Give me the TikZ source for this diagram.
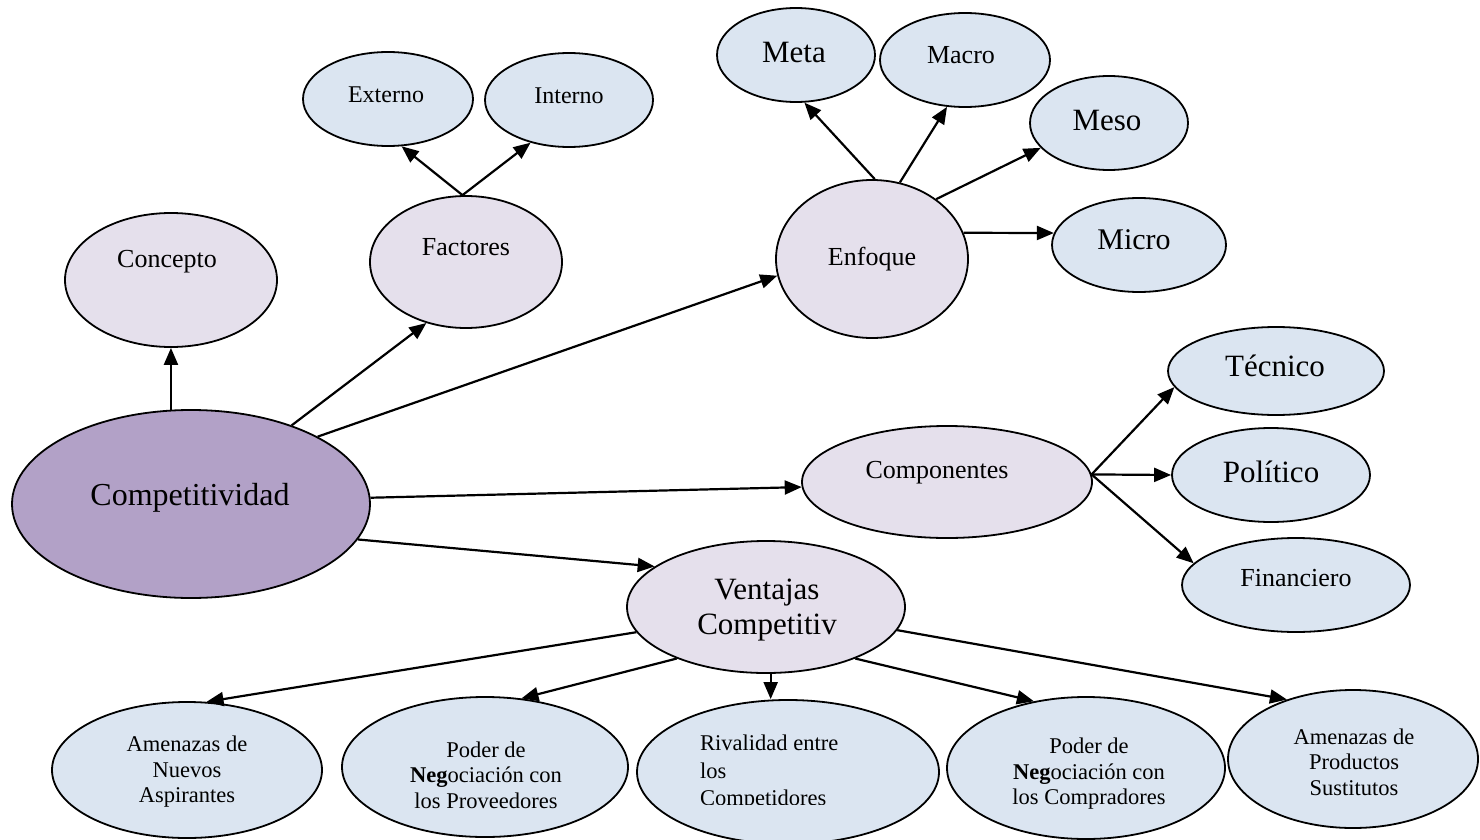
\documentclass[tikz,border=0pt]{standalone}
\usepackage{fontspec}
\setmainfont{Liberation Serif}
\usetikzlibrary{shapes.geometric,arrows.meta}

\definecolor{corefill}{HTML}{B2A1C7}
\definecolor{midfill}{HTML}{E5E0EC}
\definecolor{leaffill}{HTML}{DBE5F1}

\newcommand{\fsz}[2]{\fontsize{#1}{#2}\selectfont}

\tikzset{
  ell/.style={ellipse, draw=black, line width=1.8pt, inner sep=0pt},
  core/.style={ell, fill=corefill},
  mid/.style={ell, fill=midfill},
  leaf/.style={ell, fill=leaffill},
  sz/.style 2 args={minimum width=#1pt, minimum height=#2pt},
  lbl/.style={inner sep=0pt, align=center, text=black},
  arr/.style={line width=2.2pt, -{Triangle[length=17pt,width=14pt]}},
}

\begin{document}
\begin{tikzpicture}[x=1pt, y=-1pt]
  \useasboundingbox (0,0) rectangle (1480,840);
  \fill[white] (0,0) rectangle (1480,840);

  % central node
  \node[core, sz={358}{188}] (comp) at (191,504) {};
  \node[lbl, font=\fsz{32}{36}] (compT) at (190,498) {Competitividad};

  % first level
  \node[mid, sz={212}{134}] (concepto) at (171,280) {};
  \node[lbl, font=\fsz{26}{30}] (conceptoT) at (167,262) {Concepto};

  \node[mid, sz={192}{132}] (factores) at (466,262) {};
  \node[lbl, font=\fsz{26}{30}] (factoresT) at (466,247) {Factores};

  \node[mid, sz={192}{158}] (enfoque) at (872,259) {};
  \node[lbl, font=\fsz{26}{30}] (enfoqueT) at (872,259) {Enfoque};

  \node[mid, sz={290}{112}] (compo) at (947,482) {};
  \node[lbl, font=\fsz{26}{30}] (compoT) at (937,473) {Componentes};

  \node[mid, sz={278}{132}] (vent) at (766,607) {};
  \node[lbl, font=\fsz{31}{35}] (ventT) at (767,610) {Ventajas\\Competitiv};

  % factores
  \node[leaf, sz={170}{94}] (externo) at (388,99) {};
  \node[lbl, font=\fsz{24}{28}] (externoT) at (386,95) {Externo};
  \node[leaf, sz={168}{94}] (interno) at (569,100) {};
  \node[lbl, font=\fsz{24}{28}] (internoT) at (569,96) {Interno};

  % enfoque
  \node[leaf, sz={158}{94}] (meta) at (796,55) {};
  \node[lbl, font=\fsz{31}{35}] (metaT) at (794,53) {Meta};
  \node[leaf, sz={170}{94}] (macro) at (965,60) {};
  \node[lbl, font=\fsz{26}{30}] (macroT) at (961,55) {Macro};
  \node[leaf, sz={158}{94}] (meso) at (1109,123) {};
  \node[lbl, font=\fsz{31}{35}] (mesoT) at (1107,121) {Meso};
  \node[leaf, sz={174}{94}] (micro) at (1139,245) {};
  \node[lbl, font=\fsz{30}{34}] (microT) at (1134,240) {Micro};

  % componentes
  \node[leaf, sz={216}{88}] (tecnico) at (1276,371) {};
  \node[lbl, font=\fsz{31}{35}] (tecnicoT) at (1275,366) {Técnico};
  \node[leaf, sz={198}{94}] (politico) at (1271,475) {};
  \node[lbl, font=\fsz{31}{35}] (politicoT) at (1271,472) {Político};
  \node[leaf, sz={228}{94}] (financ) at (1296,585) {};
  \node[lbl, font=\fsz{26}{30}] (financT) at (1296,578) {Financiero};

  % ventajas competitivas
  \node[leaf, sz={270}{136}] (amenN) at (187,770) {};
  \node[lbl, font=\fsz{22.5}{25.5}] (amenNT) at (187,772) {Amenazas de\\Nuevos\\Aspirantes};
  \node[leaf, sz={286}{140}] (poderP) at (485,767) {};
  \node[lbl, font=\fsz{22.5}{25.5}] (poderPT) at (486,775) {Poder de\\\textbf{Neg}ociación con\\los Proveedores};
  \node[leaf, sz={302}{144}] (rival) at (788,772) {};
  \begin{scope}
    \clip (680,700) rectangle (940,804);
    \node[lbl, align=left, anchor=west, font=\fsz{22.5}{27.5}] (rivalT) at (700,773) {Rivalidad entre\\los\\Competidores};
  \end{scope}
  \node[leaf, sz={278}{142}] (poderC) at (1086,768) {};
  \node[lbl, font=\fsz{22.5}{25.5}] (poderCT) at (1089,774) {Poder de\\\textbf{Neg}ociación con\\los Compradores};
  \node[leaf, sz={250}{138}] (amenP) at (1353,759) {};
  \node[lbl, font=\fsz{22.5}{25.5}] (amenPT) at (1354,762) {Amenazas de\\Productos\\Sustitutos};

  % connectors from the centre
  \draw[arr] (comp.102) -- (comp.102 |- concepto.south);
  \draw[arr] (comp.38) -- (factores.237);
  \draw[arr] (comp.28) -- (enfoque.190);
  \draw[arr] (comp.2) -- (compo.182);
  \draw[arr] (comp.-12) -- (vent.160);

  % factores
  \draw[arr] (factores.93) -- (externo.286);
  \draw[arr] (factores.93) -- (interno.228);

  % enfoque
  \draw[arr] (enfoque.88) -- (meta.280);
  \draw[arr] (enfoque.70) -- (macro.249);
  \draw[arr] (enfoque.43) -- (meso.200);
  \draw[arr] (enfoque.16) -- (micro.172);

  % componentes
  \draw[arr] (compo.3) -- (tecnico.189);
  \draw[arr] (compo.3) -- (politico.west);
  \draw[arr] (compo.3) -- (financ.168);

  % ventajas
  \draw[arr] (vent.191) -- (amenN.74);
  \draw[arr] (vent.210) -- (poderP.62);
  \draw[arr] (vent.274) -- (vent.274 |- rival.north);
  \draw[arr] (vent.330) -- (poderC.128);
  \draw[arr] (vent.350) -- (amenP.138);
\end{tikzpicture}
\end{document}
